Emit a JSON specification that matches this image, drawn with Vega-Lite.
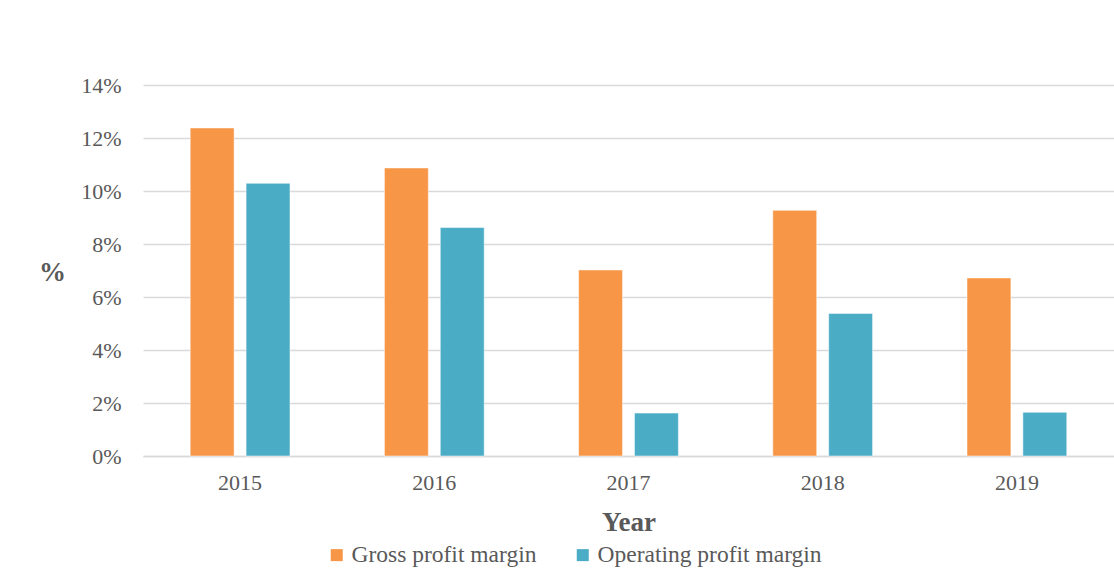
{
  "$schema": "https://vega.github.io/schema/vega-lite/v6.json",
  "autosize": {"type": "none"},
  "padding": {"left": 143, "top": 85, "right": 0, "bottom": 115},
  "width": 971,
  "height": 371,
  "background": "#ffffff",
  "data": {
    "values": [
      {"year": "2015", "series": "Gross profit margin", "value": 0.1238},
      {"year": "2015", "series": "Operating profit margin", "value": 0.1029},
      {"year": "2016", "series": "Gross profit margin", "value": 0.1087},
      {"year": "2016", "series": "Operating profit margin", "value": 0.0862},
      {"year": "2017", "series": "Gross profit margin", "value": 0.0702},
      {"year": "2017", "series": "Operating profit margin", "value": 0.0162},
      {"year": "2018", "series": "Gross profit margin", "value": 0.0927},
      {"year": "2018", "series": "Operating profit margin", "value": 0.0538},
      {"year": "2019", "series": "Gross profit margin", "value": 0.0672},
      {"year": "2019", "series": "Operating profit margin", "value": 0.0165}
    ]
  },
  "mark": {"type": "bar", "stroke": "#ffffff", "strokeOpacity": 0.5, "strokeWidth": 1},
  "encoding": {
    "x": {
      "field": "year",
      "type": "nominal",
      "scale": {"paddingInner": 0, "paddingOuter": 0},
      "axis": {
        "title": "Year",
        "labelAngle": 0,
        "labelPadding": 16,
        "ticks": false,
        "domain": true,
        "domainColor": "#d9d9d9",
        "domainWidth": 1.5,
        "titleFontWeight": "bold",
        "titleFontSize": 27,
        "titleY": 66,
        "titleBaseline": "middle"
      }
    },
    "xOffset": {
      "field": "series",
      "type": "nominal",
      "scale": {"paddingInner": 0.214, "paddingOuter": 0.845}
    },
    "y": {
      "field": "value",
      "type": "quantitative",
      "scale": {"domain": [0, 0.14], "nice": false},
      "axis": {
        "title": "%",
        "format": ".0%",
        "values": [0, 0.02, 0.04, 0.06, 0.08, 0.1, 0.12, 0.14],
        "ticks": false,
        "domain": false,
        "labelPadding": 22,
        "grid": true,
        "gridColor": "#d9d9d9",
        "gridWidth": 1.5,
        "titleAngle": 0,
        "titleFontWeight": "bold",
        "titleFontSize": 27,
        "titleX": -91,
        "titleY": 187,
        "titleAlign": "center",
        "titleBaseline": "middle"
      }
    },
    "color": {
      "field": "series",
      "type": "nominal",
      "scale": {"domain": ["Gross profit margin", "Operating profit margin"], "range": ["#F79646", "#4BACC6"]},
      "legend": {
        "title": null,
        "orient": "none",
        "direction": "horizontal",
        "legendX": 182,
        "legendY": 458,
        "symbolType": "square",
        "symbolSize": 144,
        "symbolStrokeWidth": 0,
        "labelFontSize": 23.5,
        "labelColor": "#595959",
        "labelFont": "Liberation Serif",
        "labelLimit": 0,
        "labelOffset": 3,
        "columnPadding": 34
      }
    }
  },
  "config": {
    "view": {"stroke": null},
    "axis": {
      "labelFont": "Liberation Serif",
      "titleFont": "Liberation Serif",
      "labelFontSize": 22,
      "labelColor": "#595959",
      "titleColor": "#595959"
    }
  }
}
